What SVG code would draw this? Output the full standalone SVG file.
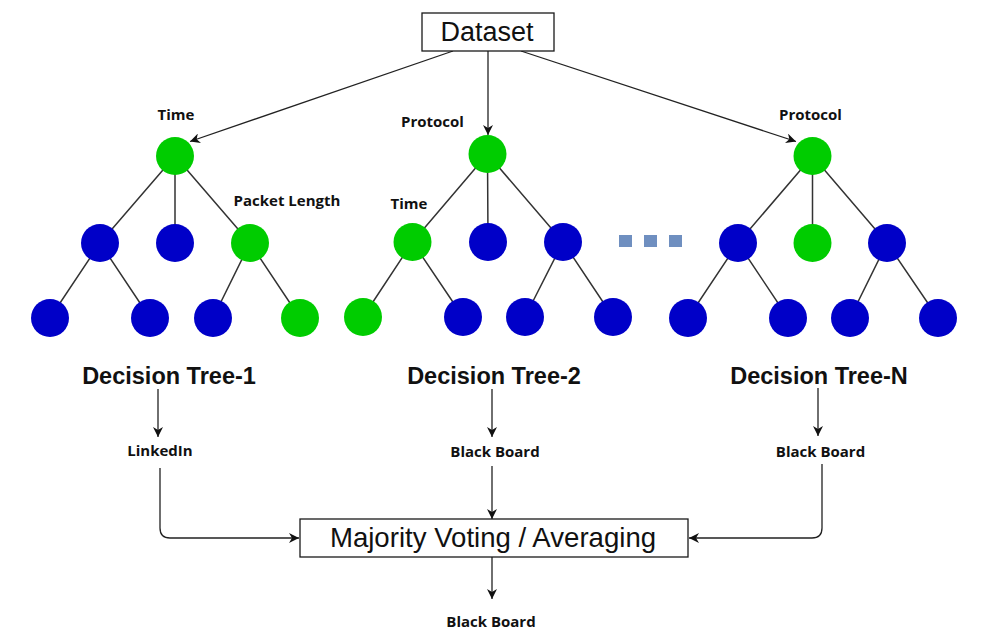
<svg xmlns="http://www.w3.org/2000/svg" width="993" height="642" viewBox="0 0 993 642">
<style>
.box{fill:#fff;stroke:#1a1a1a;stroke-width:1.3}
.big{font-family:"Liberation Sans",Arial,sans-serif;font-size:27px;fill:#111;text-anchor:middle}
.vote{font-size:27.6px}
.title{font-family:"Liberation Sans",Arial,sans-serif;font-size:23.5px;font-weight:bold;fill:#111;text-anchor:middle}
.lbl{font-family:"Open Sans","Noto Sans",sans-serif;font-size:15px;font-weight:bold;fill:#111;text-anchor:middle}
.edge{stroke:#333;stroke-width:1.5;fill:none}
.conn{stroke:#222;stroke-width:1.3;fill:none}
.g{fill:#00cc00}
.b{fill:#0000c8}
.dot{fill:#6f8fc0}
</style>
<defs>
<marker id="arr" viewBox="0 0 10 10" refX="10" refY="5" markerWidth="10" markerHeight="10" markerUnits="userSpaceOnUse" orient="auto">
<path d="M0,0 L10,5 L0,10 L3,5 z" fill="#111"/>
</marker>
</defs>
<rect width="993" height="642" fill="#fff"/>
<g id="connectors">
<line class="conn" x1="453" y1="51" x2="190" y2="141.5" marker-end="url(#arr)"/>
<line class="conn" x1="488" y1="51" x2="488" y2="135" marker-end="url(#arr)"/>
<line class="conn" x1="521" y1="51" x2="796" y2="141.5" marker-end="url(#arr)"/>
<line class="conn" x1="158" y1="389" x2="158" y2="437" marker-end="url(#arr)"/>
<line class="conn" x1="492" y1="389" x2="492" y2="437" marker-end="url(#arr)"/>
<line class="conn" x1="818" y1="388" x2="818" y2="436" marker-end="url(#arr)"/>
<path class="conn" d="M160,468 L160,528 Q160,538 170,538 L299,538" marker-end="url(#arr)"/>
<line class="conn" x1="492" y1="466" x2="492" y2="519" marker-end="url(#arr)"/>
<path class="conn" d="M822,464 L822,528 Q822,538 812,538 L689,538" marker-end="url(#arr)"/>
<line class="conn" x1="492" y1="557" x2="492" y2="599" marker-end="url(#arr)"/>
</g>
<g id="dataset">
<rect class="box" x="422" y="13" width="132" height="38"/>
<text class="big" x="487" y="41">Dataset</text>
</g>
<g id="tree1">
<path class="edge" d="M175,156 L100,243 M175,156 L175,243 M175,156 L250,243 M100,243 L50,318 M100,243 L150,318 M250,243 L213,318 M250,243 L300,318"/>
<circle class="g" cx="175" cy="156" r="19"/>
<circle class="b" cx="100" cy="243" r="19"/>
<circle class="b" cx="175" cy="243" r="19"/>
<circle class="g" cx="250" cy="243" r="19"/>
<circle class="b" cx="50" cy="318" r="19"/>
<circle class="b" cx="150" cy="318" r="19"/>
<circle class="b" cx="213" cy="318" r="19"/>
<circle class="g" cx="300" cy="318" r="19"/>
<text class="lbl" x="176" y="120">Time</text>
<text class="lbl" x="287" y="206">Packet Length</text>
<text class="title" x="169" y="384">Decision Tree-1</text>
</g>
<g id="tree2">
<path class="edge" d="M487.5,154 L412.5,242 M487.5,154 L488,242 M487.5,154 L563,242 M412.5,242 L363,317 M412.5,242 L463,317 M563,242 L525,317 M563,242 L613,317"/>
<circle class="g" cx="487.5" cy="154" r="19"/>
<circle class="g" cx="412.5" cy="242" r="19"/>
<circle class="b" cx="488" cy="242" r="19"/>
<circle class="b" cx="563" cy="242" r="19"/>
<circle class="g" cx="363" cy="317" r="19"/>
<circle class="b" cx="463" cy="317" r="19"/>
<circle class="b" cx="525" cy="317" r="19"/>
<circle class="b" cx="613" cy="317" r="19"/>
<text class="lbl" x="432.5" y="127">Protocol</text>
<text class="lbl" x="409" y="209">Time</text>
<text class="title" x="494" y="384">Decision Tree-2</text>
</g>
<g id="ellipsis">
<rect class="dot" x="619" y="235" width="13" height="12"/>
<rect class="dot" x="644" y="235" width="13" height="12"/>
<rect class="dot" x="669" y="235" width="13" height="12"/>
</g>
<g id="treeN">
<path class="edge" d="M812.5,156 L738,243 M812.5,156 L812.5,243 M812.5,156 L887,243 M738,243 L688,318 M738,243 L788,318 M887,243 L850,318 M887,243 L938,318"/>
<circle class="g" cx="812.5" cy="156" r="19"/>
<circle class="b" cx="738" cy="243" r="19"/>
<circle class="g" cx="812.5" cy="243" r="19"/>
<circle class="b" cx="887" cy="243" r="19"/>
<circle class="b" cx="688" cy="318" r="19"/>
<circle class="b" cx="788" cy="318" r="19"/>
<circle class="b" cx="850" cy="318" r="19"/>
<circle class="b" cx="938" cy="318" r="19"/>
<text class="lbl" x="810.5" y="120">Protocol</text>
<text class="title" x="819" y="384">Decision Tree-N</text>
</g>
<g id="out1"><text class="lbl" x="160" y="456">LinkedIn</text></g>
<g id="out2"><text class="lbl" x="495" y="457">Black Board</text></g>
<g id="outN"><text class="lbl" x="820.5" y="457">Black Board</text></g>
<g id="voting">
<rect class="box" x="300" y="519" width="388" height="38"/>
<text class="big vote" x="493" y="547">Majority Voting / Averaging</text>
</g>
<g id="result"><text class="lbl" x="491" y="627">Black Board</text></g>
</svg>
